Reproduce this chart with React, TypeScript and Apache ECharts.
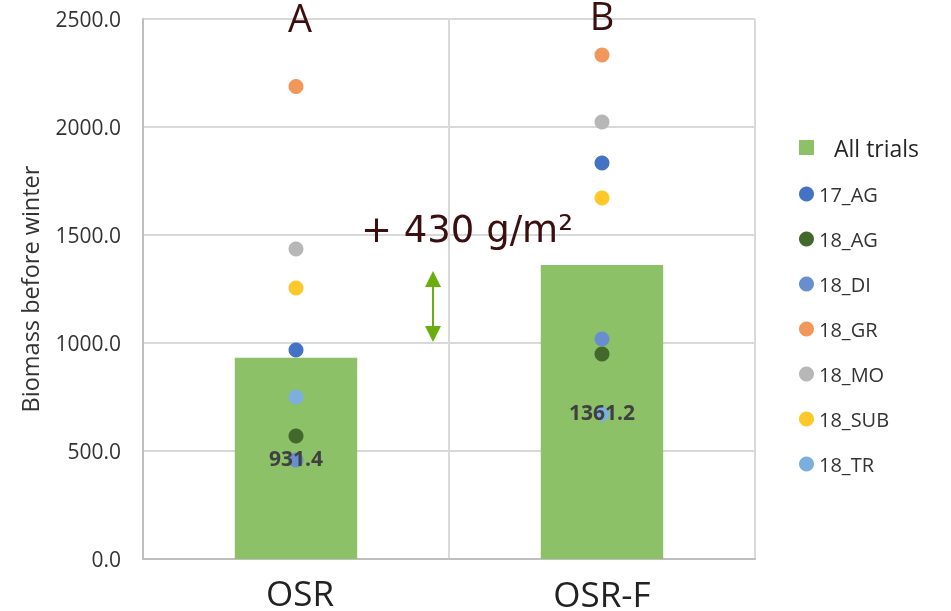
import React, { useEffect, useRef } from "react";
import * as echarts from "echarts";

const categories = ["OSR", "OSR-F"];
const allTrials = [931.4, 1361.2];
const trialNames = ["17_AG", "18_AG", "18_DI", "18_GR", "18_MO", "18_SUB", "18_TR"];
const trialColors = ["#4472c4", "#43682b", "#698ed0", "#f1975a", "#b7b7b7", "#ffc82a", "#7cafdd"];
const v17_AG = [968, 1833];
const v18_AG = [569, 949];
const v18_DI = [458, 1018];
const v18_GR = [2187, 2333];
const v18_MO = [1435, 2023];
const v18_SUB = [1255, 1671];
const v18_TR = [750, 671];
const trialValues = [v17_AG, v18_AG, v18_DI, v18_GR, v18_MO, v18_SUB, v18_TR];
const yTicks = { min: 0, max: 2500, interval: 500 };
const letters = ["A", "B"];

export default function App() {
  const ref = useRef<HTMLDivElement>(null);
  useEffect(() => {
    if (!ref.current) return;
    const chart = echarts.init(ref.current, null, { renderer: "svg" });
    const font = "'Open Sans', sans-serif";
    const scatterSeries = trialNames.map((name, i) => ({
      name,
      type: "scatter",
      data: trialValues[i],
      symbol: "circle",
      symbolSize: 15,
      itemStyle: { color: trialColors[i], opacity: 1 },
      z: 3,
    }));
    chart.setOption({
      animation: false,
      grid: { left: 143, right: 196, top: 19, bottom: 51 },
      legend: {
        orient: "vertical",
        left: 794,
        top: 131,
        itemWidth: 15,
        itemHeight: 15,
        itemGap: 25,
        textStyle: { fontFamily: font, fontSize: 20, color: "#333" },
        data: [
          {
            name: "All trials",
            icon: "rect",
            itemStyle: { color: "#8cc168" },
            textStyle: { fontSize: 23, padding: [0, 0, 0, 15], color: "#262626" },
          },
          ...trialNames.map((n) => ({ name: n, icon: "circle" })),
        ],
      },
      xAxis: {
        type: "category",
        data: categories,
        boundaryGap: true,
        axisLine: { show: true, lineStyle: { color: "#bfbfbf", width: 2 } },
        axisTick: { show: false },
        axisLabel: {
          margin: 18,
          formatter: (v: string, i: number) => (i === 0 ? `{a|${v}}` : `{b|${v}}`),
          rich: {
            a: { fontFamily: font, fontSize: 35, color: "#222", lineHeight: 30, padding: [0, 0, 0, 8] },
            b: { fontFamily: font, fontSize: 35, color: "#222", lineHeight: 30, padding: [3, 0, 0, 0] },
          },
        },
        splitLine: { show: true, lineStyle: { color: "#d9d9d9", width: 2 } },
      },
      yAxis: {
        type: "value",
        min: yTicks.min,
        max: yTicks.max,
        interval: yTicks.interval,
        name: "Biomass before winter",
        nameLocation: "middle",
        nameGap: 101,
        nameTextStyle: { fontFamily: font, fontSize: 23.5, color: "#333" },
        axisLine: { show: true, lineStyle: { color: "#bfbfbf", width: 2 } },
        axisTick: { show: false },
        axisLabel: {
          fontFamily: font,
          fontSize: 21,
          color: "#333",
          margin: 22,
          formatter: (v: number) => v.toFixed(1),
        },
        splitLine: { show: true, lineStyle: { color: "#d9d9d9", width: 2 } },
      },
      series: [
        {
          name: "All trials",
          type: "bar",
          data: allTrials,
          barWidth: "40%",
          itemStyle: { color: "#8cc168" },
          z: 2,
        },
        ...scatterSeries,
        {
          name: "labels",
          type: "bar",
          data: allTrials,
          barWidth: "40%",
          barGap: "-100%",
          itemStyle: { color: "rgba(0,0,0,0)" },
          label: {
            show: true,
            position: "inside",
            fontFamily: font,
            fontWeight: "bold",
            fontSize: 21,
            color: "#404040",
            formatter: (p: any) => Number(p.value).toFixed(1),
          },
          z: 5,
          silent: true,
        },
      ],
    });
    const graphics: any[] = [];
    letters.forEach((l, i) => {
      const [x] = chart.convertToPixel({ xAxisIndex: 0, yAxisIndex: 0 }, [i, 0]) as number[];
      graphics.push({
        type: "text",
        x: x + (i === 0 ? 4 : 0),
        y: i === 0 ? -2 : -4,
        style: {
          text: l,
          font: `38px ${font}`,
          fill: "#3b0f10",
          align: "center",
          verticalAlign: "top",
        },
        z: 10,
      });
    });
    graphics.push({
      type: "text",
      x: 467,
      y: 229,
      style: {
        text: "+ 430 g/m²",
        font: "37px 'DejaVu Sans', sans-serif",
        fill: "#3b0f10",
        align: "center",
        verticalAlign: "middle",
      },
      z: 10,
    });
    const ax = 433;
    const yTop = 271;
    const yBot = 342;
    graphics.push(
      { type: "line", shape: { x1: ax, y1: yTop + 12, x2: ax, y2: yBot - 12 }, style: { stroke: "#6aad0f", lineWidth: 2 }, z: 10 },
      { type: "polygon", shape: { points: [[ax, yTop], [ax - 8, yTop + 16], [ax + 8, yTop + 16]] }, style: { fill: "#6aad0f" }, z: 10 },
      { type: "polygon", shape: { points: [[ax, yBot], [ax - 8, yBot - 16], [ax + 8, yBot - 16]] }, style: { fill: "#6aad0f" }, z: 10 }
    );
    chart.setOption({ graphic: graphics });
    return () => chart.dispose();
  }, []);
  return <div ref={ref} style={{ position: "fixed", left: 0, top: 0, width: 951, height: 611 }} />;
}
